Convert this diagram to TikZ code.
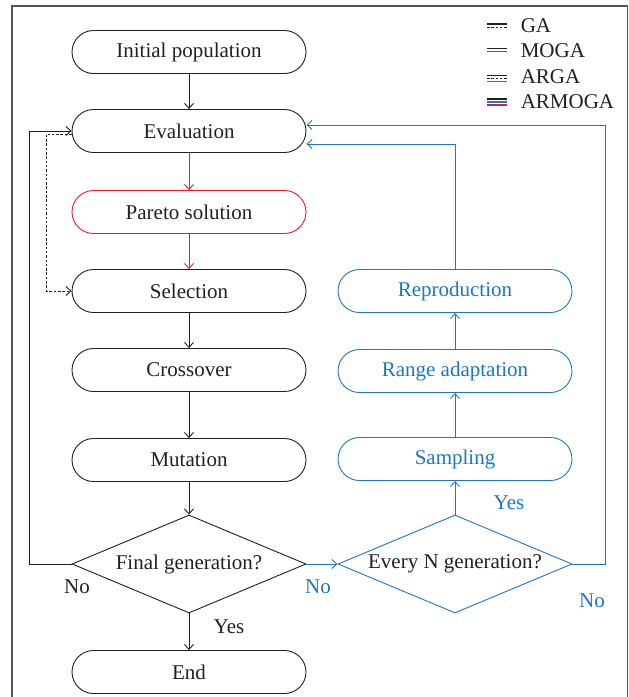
\documentclass[tikz,border=0pt]{standalone}
\usepackage{fontspec}
\setmainfont{Liberation Serif}
\usepackage{tikz}
\usetikzlibrary{arrows.meta, positioning, shapes.geometric}
\definecolor{ablue}{RGB}{30,118,192}
\definecolor{ared}{RGB}{236,28,36}
\definecolor{atext}{RGB}{35,31,32}
\definecolor{aframe}{RGB}{85,85,85}
\newcommand{\figfont}{\fontsize{21pt}{25pt}\selectfont}

\begin{document}
\begin{tikzpicture}[
                x=1pt, y=-1pt,
                line width=0.9pt,
                term/.style={rectangle, draw=atext, rounded corners=21.5pt, minimum width=234pt, minimum height=43pt, font=\figfont, text=atext, inner sep=0pt},
                decision/.style={diamond, draw=atext, minimum width=234pt, minimum height=98pt, aspect=2.39, inner sep=0pt, font=\figfont, text=atext},
                arr/.style={draw=atext, -{Straight Barb[length=5pt, width=9pt]}},
                bl/.style={draw=ablue},
                rd/.style={draw=ared},
                lab/.style={font=\figfont, text=atext},
                ga/.style={dash pattern=on 2.5pt off 1.8pt}
            ]
                \useasboundingbox (0,0) rectangle (629,697);
                \draw[aframe, line width=1.5pt] (12,697) -- (12,6) -- (627.5,6) -- (627.5,697);

                \node[term] (init) at (189,52) {Initial population};
                \node[term] (eval) at (189,131) {Evaluation};
                \node[term, draw=ared] (pareto) at (189,212) {Pareto solution};
                \node[term] (sel) at (189,291) {Selection};
                \node[term] (cross) at (189,370) {Crossover};
                \node[term] (mut) at (189,460) {Mutation};
                \node[decision] (final) at (189,564) {Final generation?};
                \node[term] (end) at (189,672) {End};

                \node[term, draw=ablue, text=ablue] (repro) at (455,291) {Reproduction};
                \node[term, draw=ablue, text=ablue] (range) at (455,371) {Range adaptation};
                \node[term, draw=ablue, text=ablue] (samp) at (455,459) {Sampling};
                \node[decision, draw=ablue] (every) at (455,564) {Every N generation?};

                \draw[arr] (init) -- (eval);
                \draw[arr, rd] (eval) -- (pareto);
                \draw[arr, rd] (pareto) -- (sel);
                \draw[arr] (sel) -- (cross);
                \draw[arr] (cross) -- (mut);
                \draw[arr] (mut) -- (final);
                \draw[arr] (final) -- (end);
                \draw[arr] (final.west) -- ++(-42,0) |- (eval.west);
                \draw[arr, ga] ([yshift=-3pt]eval.west) -- ++(-25,0) |- (sel.west);

                \draw[arr, bl] (final.east) -- (every.west);
                \draw[arr, bl] (every.north) -- (samp);
                \draw[arr, bl] (samp) -- (range);
                \draw[arr, bl] (range) -- (repro);
                \draw[arr, bl] (repro.north) |- ([yshift=-13pt]eval.east);
                \draw[arr, bl] (every.east) -- ++(33,0) |- ([yshift=6pt]eval.east);

                \node[lab] (nofinal) at (77,587) {No};
                \node[lab] (yesfinal) at (229,627) {Yes};
                \node[lab, text=ablue] (nonext) at (318,587) {No};
                \node[lab, text=ablue] (yesevery) at (509,503) {Yes};
                \node[lab, text=ablue] (noevery) at (592,601) {No};

                \begin{scope}[line width=1.3pt]
                    \draw[atext] (487,24) -- (507,24);
                    \draw[atext, ga] (487,27.5) -- (507,27.5);
                    \draw[atext] (487,48.5) -- (507,48.5);
                    \draw[ared] (487,51.5) -- (507,51.5);
                    \draw[atext] (487,75.5) -- (507,75.5);
                    \draw[atext, ga] (487,78.5) -- (507,78.5);
                    \draw[ablue] (487,81.5) -- (507,81.5);
                    \draw[atext] (487,99) -- (507,99);
                    \draw[ablue] (487,102) -- (507,102);
                    \draw[ared] (487,105) -- (507,105);
                \end{scope}
                \node[lab, anchor=west] (lga) at (517,26) {GA};
                \node[lab, anchor=west] (lmoga) at (517,51) {MOGA};
                \node[lab, anchor=west] (larga) at (517,77) {ARGA};
                \node[lab, anchor=west] (larmoga) at (517,102) {ARMOGA};
            \end{tikzpicture}
\end{document}
